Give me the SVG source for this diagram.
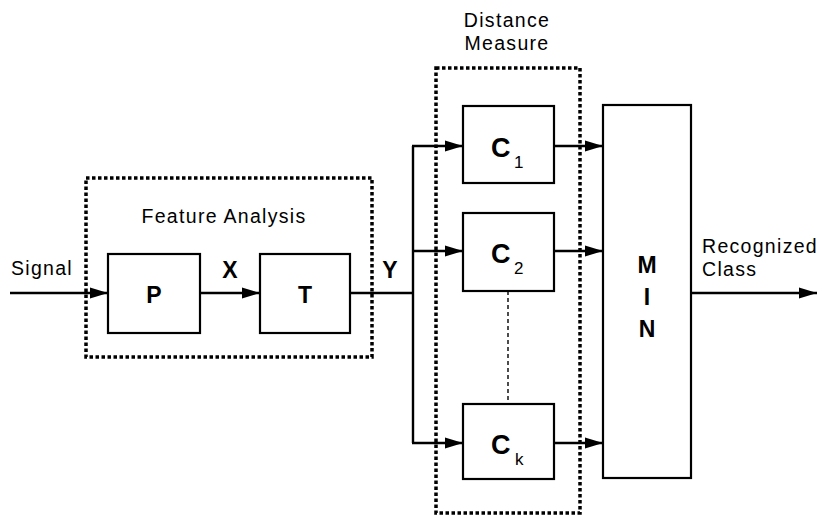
<svg xmlns="http://www.w3.org/2000/svg" width="819" height="516" viewBox="0 0 819 516">
<style>
.box{fill:#fff;stroke:#000;stroke-width:2.2}
.grp{fill:none;stroke:#000;stroke-width:3.5;stroke-dasharray:3.5 2.5}
.ln{fill:none;stroke:#000;stroke-width:2.4}
.dash{fill:none;stroke:#000;stroke-width:1.4;stroke-dasharray:4 3}
.t{font-family:"Liberation Sans",Arial,sans-serif;font-size:19.5px;letter-spacing:1.3px;fill:#000}
.b{font-family:"Liberation Sans",Arial,sans-serif;font-weight:bold;font-size:23px;fill:#000;text-anchor:middle}
.c{font-family:"Liberation Sans",Arial,sans-serif;font-weight:bold;font-size:27px;fill:#000}
.s{font-family:"Liberation Sans",Arial,sans-serif;font-size:17px;fill:#000}
</style>
<defs>
<marker id="ah" markerUnits="userSpaceOnUse" markerWidth="20" markerHeight="14" refX="18" refY="7" orient="auto">
<path d="M0,1.5 L18,7 L0,12.5 Z" fill="#000"/>
</marker>
</defs>
<rect width="819" height="516" fill="#fff"/>
<g id="feature-analysis">
<rect class="grp" x="86" y="178" width="286" height="179"/>
<text class="t" x="224" y="223" text-anchor="middle">Feature Analysis</text>
</g>
<g id="distance-measure">
<rect class="grp" x="436" y="68" width="144" height="445"/>
<text class="t" x="507" y="27" text-anchor="middle">Distance</text>
<text class="t" x="507" y="50" text-anchor="middle">Measure</text>
</g>
<g id="P"><rect class="box" x="108" y="254" width="92" height="79"/><text class="b" x="154" y="303">P</text></g>
<g id="T"><rect class="box" x="260" y="254" width="90" height="79"/><text class="b" x="305" y="303">T</text></g>
<g id="C1"><rect class="box" x="463" y="106" width="91" height="77"/><text class="c" x="491" y="157">C</text><text class="s" x="514" y="168">1</text></g>
<g id="C2"><rect class="box" x="463" y="213" width="91" height="78"/><text class="c" x="491" y="263">C</text><text class="s" x="514" y="274">2</text></g>
<g id="Ck"><rect class="box" x="463" y="404" width="91" height="75"/><text class="c" x="491" y="454">C</text><text class="s" x="515" y="465">k</text></g>
<g id="MIN"><rect class="box" x="603" y="105" width="88" height="373"/>
<text class="b" x="647" y="273" font-size="25">M</text>
<text class="b" x="647" y="305" font-size="25">I</text>
<text class="b" x="647" y="337" font-size="25">N</text></g>
<g id="labels">
<text class="t" x="11" y="275">Signal</text>
<text class="b" x="230" y="278">X</text>
<text class="b" x="390" y="278">Y</text>
<text class="t" x="702" y="253">Recognized</text>
<text class="t" x="702" y="276">Class</text>
</g>
<g id="connectors">
<path class="ln" d="M10,293 H108" marker-end="url(#ah)"/>
<path class="ln" d="M200,293 H260" marker-end="url(#ah)"/>
<path class="ln" d="M350,293 H413"/>
<path class="ln" d="M413,146 V443"/>
<path class="ln" d="M412,146 H463" marker-end="url(#ah)"/>
<path class="ln" d="M412,251 H463" marker-end="url(#ah)"/>
<path class="ln" d="M412,443 H463" marker-end="url(#ah)"/>
<path class="ln" d="M554,146 H603" marker-end="url(#ah)"/>
<path class="ln" d="M554,251 H603" marker-end="url(#ah)"/>
<path class="ln" d="M554,443 H603" marker-end="url(#ah)"/>
<path class="ln" d="M691,293 H817" marker-end="url(#ah)"/>
<path class="dash" d="M508,291 V404"/>
</g>
</svg>
